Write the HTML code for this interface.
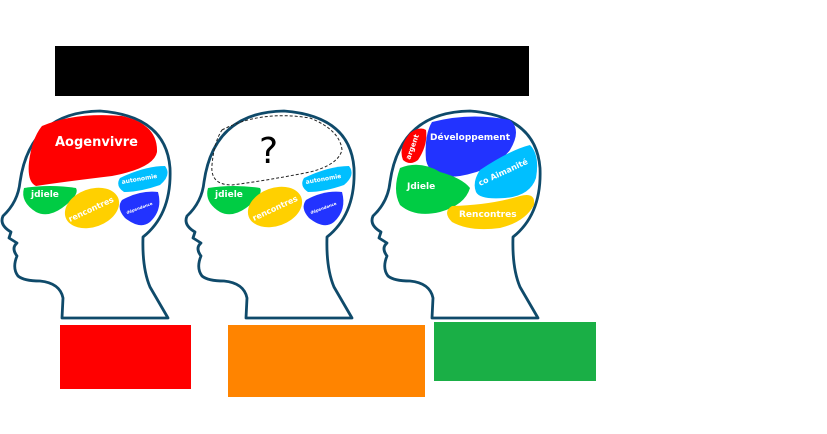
<!DOCTYPE html>
<html><head><meta charset="utf-8"><style>
html,body{margin:0;padding:0;background:#fff;width:827px;height:434px;overflow:hidden}
svg{display:block}
text{font-family:"DejaVu Sans","Liberation Sans",sans-serif;fill:#fff;font-weight:bold}
</style></head><body>
<svg width="827" height="434" viewBox="0 0 827 434" xmlns="http://www.w3.org/2000/svg">
<defs>
<path id="head" d="M62,318 L168,318 L150,287 Q142,268 143,237 Q172,214 170,168 Q166,116 100,111 Q30,112 20,182 Q18,202 3,216 Q-1,225 11,232 L9,238 L17,243 Q11,248 17,256 Q12,268 18,276 Q24,281 40,281 Q60,283 63,298 Z" fill="none" stroke="#0f4a6a" stroke-width="2.8" stroke-linejoin="round"/>
</defs>
<rect x="55" y="46" width="474" height="50" fill="#000"/>
<rect x="60" y="325" width="131" height="64" fill="#ff0000"/>
<rect x="228" y="325" width="197" height="72" fill="#ff8400"/>
<rect x="434" y="322" width="162" height="59" fill="#1aaf46"/>

<!-- head 1 -->
<use href="#head"/>
<path d="M42,126 Q75,112 122,116 Q158,124 157,152 Q154,168 112,176 Q62,182 36,186 Q27,182 29,162 Q32,138 42,126 Z" fill="#ff0000"/>
<text x="55" y="146" font-size="13">Aogenvivre</text>
<path d="M24,188 Q50,184 76,188 Q80,195 62,208 Q48,218 36,212 Q20,202 24,188 Z" fill="#00cc44"/>
<text x="31" y="197" font-size="9" font-weight="normal">jdiele</text>
<ellipse cx="92" cy="208" rx="28" ry="19" transform="rotate(-20 92 208)" fill="#ffd000"/>
<text x="70" y="222" font-size="8" transform="rotate(-25 70 222)">rencontres</text>
<path d="M120,178 Q145,166 165,166 Q172,175 160,185 Q140,192 124,192 Q115,186 120,178 Z" fill="#00bfff"/>
<text x="122" y="184" font-size="6" transform="rotate(-10 122 184)">autonomie</text>
<path d="M122,200 Q140,190 158,192 Q163,210 150,222 Q140,230 125,218 Q116,208 122,200 Z" fill="#2233ff"/>
<text x="127" y="214" font-size="4" transform="rotate(-20 127 214)">dépendance</text>

<!-- head 2 -->
<g transform="translate(184,0)"><use href="#head"/></g>
<path d="M222,130 Q260,110 310,118 Q340,130 342,150 Q338,165 310,172 Q270,180 232,185 Q210,185 212,165 Q214,142 222,130 Z" fill="none" stroke="#222" stroke-width="1" stroke-dasharray="3,2"/>
<text x="259" y="163" font-size="36" style="fill:#000;font-weight:normal">?</text>
<path d="M208,188 Q234,184 260,188 Q264,195 246,208 Q232,218 220,212 Q204,202 208,188 Z" fill="#00cc44"/>
<text x="215" y="197" font-size="9" font-weight="normal">jdiele</text>
<ellipse cx="275" cy="207" rx="28" ry="19" transform="rotate(-20 275 207)" fill="#ffd000"/>
<text x="254" y="221" font-size="8" transform="rotate(-25 254 221)">rencontres</text>
<path d="M304,178 Q329,166 349,166 Q356,175 344,185 Q324,192 308,192 Q299,186 304,178 Z" fill="#00bfff"/>
<text x="306" y="184" font-size="6" transform="rotate(-10 306 184)">autonomie</text>
<path d="M306,200 Q324,190 342,192 Q347,210 334,222 Q324,230 309,218 Q300,208 306,200 Z" fill="#2233ff"/>
<text x="311" y="214" font-size="4" transform="rotate(-20 311 214)">dépendance</text>

<!-- head 3 -->
<g transform="translate(370,0)"><use href="#head"/></g>
<path d="M410,133 Q420,126 426,130 Q428,145 418,160 Q410,166 403,160 Q398,148 410,133 Z" fill="#ff0000"/>
<text x="410" y="160" font-size="7" transform="rotate(-70 410 160)">argent</text>
<path d="M432,122 Q470,112 510,120 Q522,130 510,150 Q495,170 460,176 Q430,180 426,160 Q424,135 432,122 Z" fill="#2233ff"/>
<text x="430" y="140" font-size="9" font-weight="normal">Développement</text>
<path d="M400,168 Q420,160 440,172 Q462,178 470,188 Q465,205 440,212 Q415,218 400,205 Q392,190 400,168 Z" fill="#00cc44"/>
<text x="407" y="189" font-size="9" font-weight="normal">Jdiele</text>
<path d="M480,170 Q510,150 530,145 Q540,155 536,178 Q530,196 505,198 Q480,200 476,192 Q472,182 480,170 Z" fill="#00bfff"/>
<text x="480" y="186" font-size="8" font-weight="normal" transform="rotate(-25 480 186)">co Aimanité</text>
<path d="M452,206 Q490,205 520,196 Q536,192 534,205 Q525,222 500,228 Q470,232 452,222 Q442,212 452,206 Z" fill="#ffd000"/>
<text x="459" y="217" font-size="9">Rencontres</text>
</svg>
</body></html>
